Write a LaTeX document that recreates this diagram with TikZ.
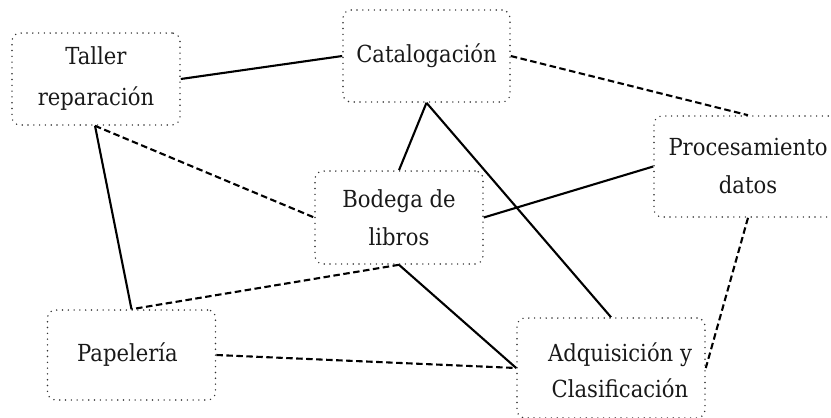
\documentclass[tikz,border=0pt]{standalone}
\usepackage{fontspec}
\setmainfont{DejaVu Serif Condensed}
\begin{document}
\begin{tikzpicture}[x=1pt,y=-1pt,
  box/.style={draw=black!80, line width=1.6pt, line cap=round, dash pattern=on 0pt off 5.8pt,
    rounded corners=8pt, inner sep=0pt, align=center,
    font=\fontsize{23.5}{38}\selectfont, text=black!90},
  txt/.style={font=\fontsize{23.5}{36}\selectfont, text=black!90, align=center},
  solidline/.style={line width=2.1pt, black},
  dashline/.style={line width=2.1pt, black, dash pattern=on 6.5pt off 3.5pt}]
\useasboundingbox (0,0) rectangle (831,418);
\node[box, minimum width=168pt, minimum height=92pt] (taller) at (96,79) {\raisebox{3pt}{Taller}\\reparación};
\node[box, minimum width=167pt, minimum height=92pt] (cat) at (426.5,56) {Catalogación};
\node[box, minimum width=188pt, minimum height=101pt] (proc) at (748,166.5) {Procesamiento\\datos};
\node[box, minimum width=168pt, minimum height=93pt] (bod) at (399,217.5) {Bodega de\\libros};
\node[box, minimum width=168pt, minimum height=90pt] (pap) at (131.5,355) {};
\node[txt] at (127.5,355) {Papelería};
\node[box, minimum width=188pt, minimum height=100pt] (adq) at (611,368) {};
\node[txt] at (620,370) {Adquisición y\\Clasificación};
\draw[solidline] (taller.east) -- (cat.west);
\draw[dashline] (cat.east) -- (proc.north);
\draw[dashline] ([xshift=-1pt]taller.south) -- (bod.west);
\draw[solidline] ([xshift=-1pt]taller.south) -- (pap.north);
\draw[solidline] (cat.south) -- (bod.north);
\draw[solidline] (cat.south) -- (adq.north);
\draw[solidline] (proc.west) -- (bod.east);
\draw[dashline] (bod.south) -- (pap.north);
\draw[solidline] (bod.south) -- (adq.west);
\draw[dashline] (pap.east) -- (adq.west);
\draw[dashline] (proc.south) -- (adq.east);
\end{tikzpicture}
\end{document}
